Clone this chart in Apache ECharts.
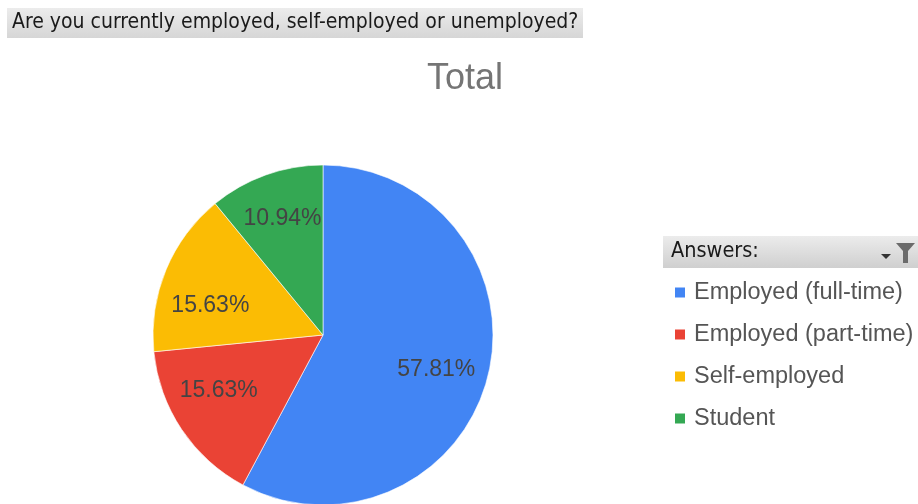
<!DOCTYPE html>
<html>
<head>
<meta charset="utf-8">
<style>
  html, body { margin: 0; padding: 0; background: #fff; }
  #chart { width: 918px; height: 504px; }
</style>
<script src="https://cdn.jsdelivr.net/npm/echarts@6/dist/echarts.min.js"></script>
</head>
<body>
<div id="chart"></div>
<script>
// Survey answers and their shares (percent of respondents)
var question = 'Are you currently employed, self-employed or unemployed?';
var chartTitle = 'Total';
var legendTitle = 'Answers:';
var answers = ['Employed (full-time)', 'Employed (part-time)', 'Self-employed', 'Student'];
var shares = [57.81, 15.63, 15.63, 10.94];
var colors = ['#4285F4', '#EA4335', '#FBBC04', '#34A853'];

// small nudges so the percentage labels sit clear of the slice edges
var labelNudge = {
  'Employed (full-time)': [-6, 5],
  'Employed (part-time)': [-2, -13],
  'Self-employed': [1, 18],
  'Student': [1, -1]
};

var pieData = answers.map(function (name, i) {
  return { name: name, value: shares[i] };
});

var chart = echarts.init(document.getElementById('chart'), null, { renderer: 'canvas' });

var option = {
  animation: false,
  color: colors,
  title: {
    text: chartTitle,
    left: 427,
    top: 61,
    padding: 0,
    textStyle: { fontFamily: 'Liberation Sans', fontSize: 36, fontWeight: 'normal', color: '#757575' }
  },
  legend: {
    orient: 'vertical',
    left: 673,
    top: 280,
    padding: 0,
    icon: 'rect',
    itemWidth: 12,
    itemHeight: 12,
    itemGap: 17,
    selectedMode: false,
    data: answers,
    textStyle: { fontFamily: 'Liberation Sans', fontSize: 23.5, color: '#555', lineHeight: 25, padding: [0, 0, 0, 3] }
  },
  graphic: [
    // question banner
    {
      type: 'rect',
      shape: { x: 7, y: 8, width: 576, height: 30 },
      style: {
        fill: new echarts.graphic.LinearGradient(0, 0, 0, 1, [
          { offset: 0, color: '#ececec' }, { offset: 1, color: '#d6d6d6' }
        ])
      }
    },
    {
      type: 'text',
      left: 12,
      top: 12,
      style: { text: question, fontFamily: 'DejaVu Sans Condensed', fontSize: 21, fill: '#1a1a1a' }
    },
    // legend header bar
    {
      type: 'rect',
      shape: { x: 663, y: 236, width: 255, height: 32 },
      style: {
        fill: new echarts.graphic.LinearGradient(0, 0, 0, 1, [
          { offset: 0, color: '#ececec' }, { offset: 1, color: '#cfcfcf' }
        ])
      }
    },
    {
      type: 'text',
      left: 671,
      top: 240,
      style: { text: legendTitle, fontFamily: 'DejaVu Sans Condensed', fontSize: 21.5, fill: '#1a1a1a' }
    },
    // filter glyph
    {
      type: 'polygon',
      shape: { points: [[896, 243], [915, 243], [908, 251], [908, 263], [903, 263], [903, 251]] },
      style: { fill: '#6b6b6b' }
    },
    {
      type: 'polygon',
      shape: { points: [[881, 254], [891, 254], [886, 259]] },
      style: { fill: '#333' }
    }
  ],
  series: [
    {
      type: 'pie',
      center: [323, 335],
      radius: [0, 170],
      startAngle: 90,
      clockwise: true,
      silent: true,
      label: { show: false },
      labelLine: { show: false },
      itemStyle: { borderColor: '#ffffff', borderWidth: 0.6 },
      data: pieData
    },
    {
      // label ring placing the percentages at about 70% of the radius
      type: 'pie',
      center: [323, 335],
      radius: [70, 170],
      startAngle: 90,
      clockwise: true,
      silent: true,
      legendHoverLink: false,
      itemStyle: { color: 'rgba(0,0,0,0)' },
      label: {
        show: true,
        position: 'inside',
        formatter: function (p) { return p.value.toFixed(2) + '%'; },
        fontFamily: 'Liberation Sans',
        fontSize: 23,
        color: '#444'
      },
      labelLine: { show: false },
      data: pieData.map(function (d) {
        return { name: d.name + ' ', value: d.value, label: { offset: labelNudge[d.name] } };
      })
    }
  ]
};

chart.setOption(option);
</script>
</body>
</html>
